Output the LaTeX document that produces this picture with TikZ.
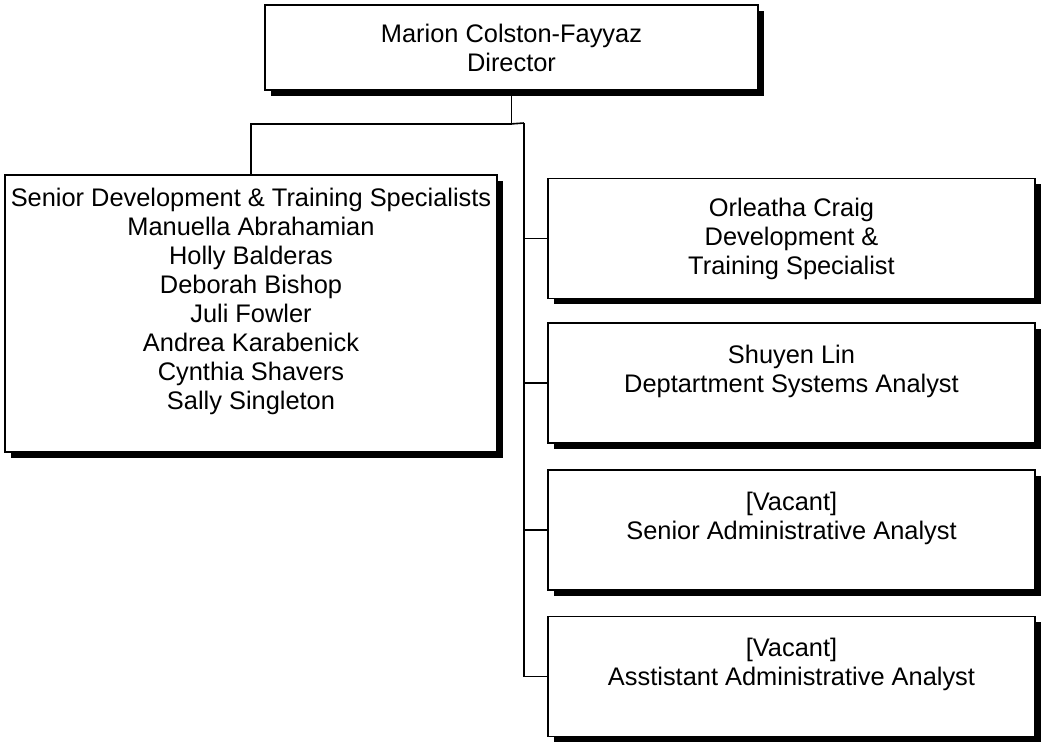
\documentclass[tikz,border=0pt]{standalone}
\usepackage{fontspec}
\setmainfont{Liberation Sans}
\usetikzlibrary{shadows}

\begin{document}
\begin{tikzpicture}[x=1pt, y=-1pt,
    unit/.style={rectangle, draw, line width=1.8pt, fill=white, align=center, inner sep=0pt,
        font=\fontsize{25.4}{29}\selectfont,
        drop shadow={shadow xshift=5.5pt, shadow yshift=-5.5pt, fill=black, opacity=1}},
    staff/.style={unit, minimum width=487pt, minimum height=120pt},
    link/.style={line width=1.6pt}
]
    \useasboundingbox (0,0) rectangle (1046,744);

    \node[unit, minimum width=493pt, minimum height=85pt] (dir) at (511.5,47.5) {Marion Colston-Fayyaz\\Director};

    \node[unit, minimum width=492pt, minimum height=277pt] (senior) at (251,313.5) {Senior Development \& Training Specialists\\Manuella Abrahamian\\Holly Balderas\\Deborah Bishop\\Juli Fowler\\Andrea Karabenick\\Cynthia Shavers\\Sally Singleton\\ \mbox{}};

    \node[staff] (craig) at (791.5,238.5) {Orleatha Craig\\Development \&\\Training Specialist};
    \node[staff] (lin) at (791.5,383) {Shuyen Lin\\Deptartment Systems Analyst\\ \mbox{}};
    \node[staff] (senadmin) at (791.5,530) {[Vacant]\\Senior Administrative Analyst\\ \mbox{}};
    \node[staff] (asstadmin) at (791.5,676.5) {[Vacant]\\Asstistant Administrative Analyst\\ \mbox{}};

    \coordinate (split) at ([yshift=-33pt]dir.south);
    \coordinate (trunk) at (524,123);

    \draw[link] (dir.south) -- (split) -| (senior.north);
    \draw[link] (split) -- (trunk);
    \draw[link] (trunk) |- (craig.west);
    \draw[link] (trunk) |- (lin.west);
    \draw[link] (trunk) |- (senadmin.west);
    \draw[link] (trunk) |- (asstadmin.west);
\end{tikzpicture}
\end{document}
